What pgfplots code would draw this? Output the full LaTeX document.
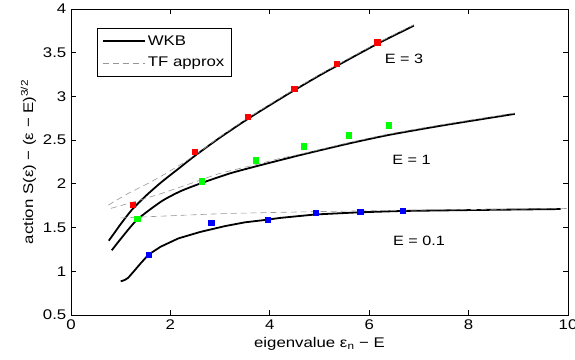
\documentclass[border=0pt]{standalone}
\usepackage{fontspec}
\setmainfont{Liberation Sans}[FakeStretch=1.2]
\usepackage{pgfplots}
\pgfplotsset{compat=1.18}
\definecolor{tfgray}{RGB}{150,150,150}
\definecolor{mred}{RGB}{255,0,0}
\definecolor{mgreen}{RGB}{0,255,0}
\definecolor{mblue}{RGB}{0,0,255}
\begin{document}
\fontsize{13.5bp}{16bp}\selectfont
\begin{tikzpicture}
\begin{axis}[name=ax, scale only axis, width=497bp, height=306bp,
  xmin=0, xmax=10, ymin=0.5, ymax=4,
  xtick={0,2,4,6,8,10}, ytick={0.5,1,1.5,2,2.5,3,3.5,4},
  tick align=inside, major tick length=5bp,
  axis line style={line width=0.8bp},
  every tick/.style={line width=0.8bp, black},
  /pgf/number format/assume math mode=true,
  tick label style={font=\fontsize{14bp}{16bp}\selectfont},
  label style={font=\fontsize{14bp}{16bp}\selectfont},
  xlabel={eigenvalue ε\textsubscript{n} − E},
  ylabel={action S(ε) − (ε − E)\textsuperscript{3/2}},
  xlabel style={at={(axis description cs:0.5,-0.058)}, anchor=north},
  ylabel style={at={(axis description cs:-0.061,0.5)}, anchor=south, rotate=0},
  legend style={at={(0.052,0.937)}, anchor=north west, draw=black,
    font=\fontsize{14bp}{16bp}\selectfont, inner xsep=5bp, inner ysep=5bp, row sep=6bp},
  legend cell align=left,
  legend image code/.code={\draw[#1] (0bp,0bp) -- (42bp,0bp);},
]
% WKB curves
\addplot[black, line width=1.8bp, smooth, tension=0.4] coordinates {
(0.76,1.35) (0.9,1.46) (1.0,1.54) (1.22,1.70) (1.5,1.86) (1.82,2.02) (2.2,2.19) (2.49,2.32) (3,2.53) (3.55,2.74) (4,2.90) (4.49,3.07) (5,3.24) (5.35,3.35) (6.16,3.6) (6.9,3.81)};
\addlegendentry{WKB}
\addplot[tfgray, line width=0.6bp, dash pattern=on 6bp off 4bp, smooth, tension=0.4] coordinates {
(0.75,1.757) (1.15,1.89) (1.5,1.99) (1.82,2.09) (2.23,2.23) (2.6,2.37) (3,2.54) (3.55,2.75) (4,2.91) (4.49,3.08) (5,3.25) (5.35,3.36) (6.16,3.61) (6.9,3.82)};
\addlegendentry{TF approx}
\addplot[black, line width=1.8bp, smooth, tension=0.4, forget plot] coordinates {
(0.82,1.24) (1.0,1.37) (1.33,1.59) (1.82,1.80) (2.2,1.915) (2.63,2.01) (3.2,2.12) (3.72,2.20) (4.2,2.27) (4.69,2.34) (5.58,2.46) (6.4,2.56) (7.5,2.67) (8.93,2.80)};
\addplot[black, line width=1.8bp, forget plot] coordinates {
(1.0,0.885) (1.08,0.90) (1.15,0.925) (1.25,0.99) (1.4,1.09) (1.56,1.19) (1.8,1.28) (2.16,1.376) (2.6,1.45) (3.1,1.517) (3.5,1.56) (3.95,1.59) (4.2,1.61) (4.92,1.65) (5.82,1.675) (6.67,1.69) (8,1.70) (9.85,1.712)};
% TF approx
\addplot[tfgray, line width=0.6bp, dash pattern=on 6bp off 4bp, smooth, tension=0.4, forget plot] coordinates {
(0.805,1.72) (1.3,1.80) (1.82,1.89) (2.49,2.02) (3,2.12) (3.72,2.22) (4.2,2.29) (4.69,2.35) (5.58,2.47) (6.4,2.57) (7.5,2.68) (8.93,2.81)};
\addplot[tfgray, line width=0.6bp, dash pattern=on 6bp off 4bp, smooth, tension=0.4, forget plot] coordinates {
(1.0,1.61) (2,1.635) (3.1,1.66) (4.2,1.674) (5,1.683) (6,1.692) (7,1.70) (8,1.706) (9,1.712) (10,1.718)};
% eigenvalue markers
\addplot[only marks, mark=square*, mark size=2.6bp, mred, forget plot] coordinates {
(1.24,1.765) (2.49,2.37) (3.55,2.77) (4.49,3.09) (5.35,3.37) (6.16,3.62)};
\addplot[only marks, mark=square*, mark size=2.6bp, mgreen, forget plot] coordinates {
(1.33,1.60) (2.63,2.03) (3.72,2.27) (4.69,2.43) (5.58,2.557) (6.40,2.67)};
\addplot[only marks, mark=square*, mark size=2.6bp, mblue, forget plot] coordinates {
(1.56,1.19) (2.82,1.56) (3.95,1.59) (4.92,1.674) (5.82,1.68) (6.67,1.69)};
\node at (axis cs:6.70,3.434) {E = 3};
\node at (axis cs:6.85,2.27) {E = 1};
\node at (axis cs:7.0,1.348) {E = 0.1};
\end{axis}
\pgfresetboundingbox
\path ([shift={(-71bp,-45bp)}]ax.south west) rectangle ([shift={(7bp,9bp)}]ax.north east);
\end{tikzpicture}
\end{document}
